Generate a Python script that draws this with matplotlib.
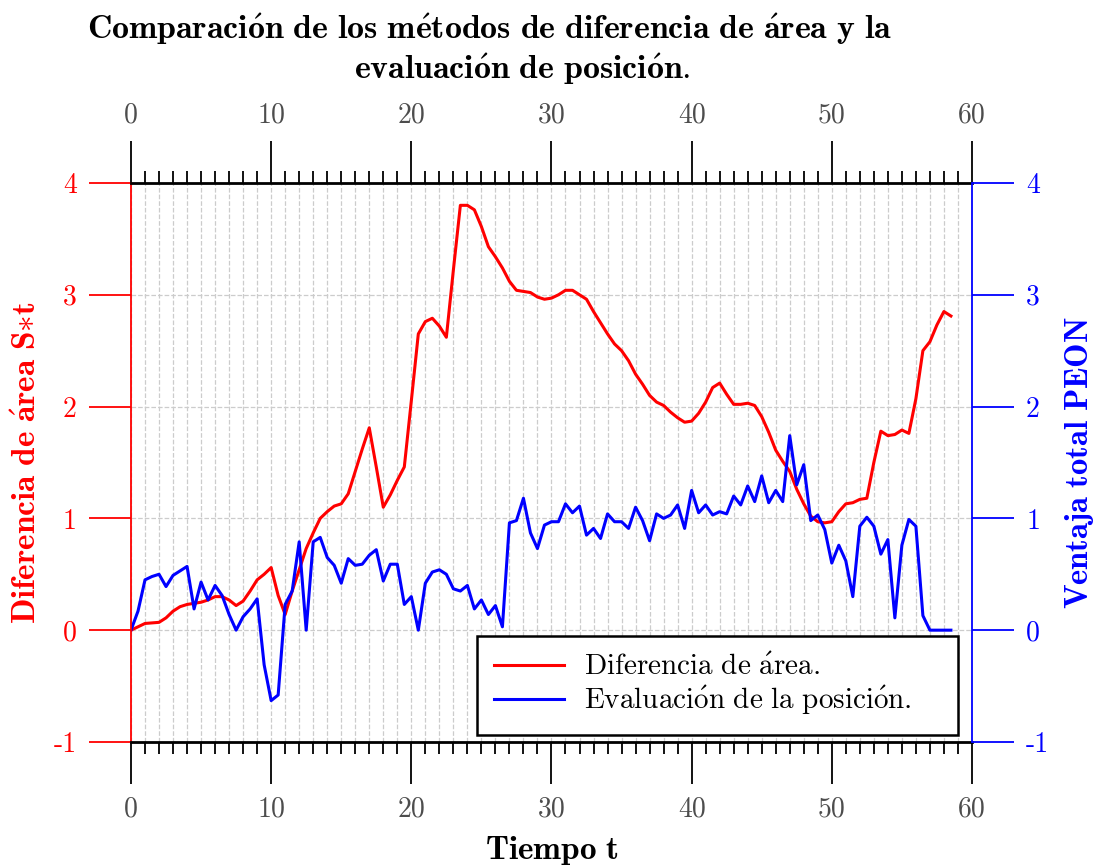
import numpy as np
import matplotlib
matplotlib.use("Agg")
import matplotlib.pyplot as plt

plt.rcParams['mathtext.fontset'] = 'cm'
plt.rcParams['font.family'] = 'cmr10'
plt.rcParams['axes.unicode_minus'] = False

# time axis, one sample every half unit
t = np.arange(0, 59, 0.5)

# Diferencia de área (left axis)
area_diff = [
    0.00, 0.03, 0.06, 0.065, 0.07, 0.11, 0.17, 0.21, 0.23, 0.24,
    0.25, 0.27, 0.30, 0.30, 0.27, 0.22, 0.26, 0.35, 0.45, 0.50,
    0.56, 0.31, 0.14, 0.35, 0.54, 0.73, 0.87, 1.00, 1.06, 1.11,
    1.13, 1.22, 1.42, 1.62, 1.81, 1.46, 1.10, 1.21, 1.34, 1.46,
    2.05, 2.65, 2.76, 2.79, 2.72, 2.62, 3.22, 3.80, 3.80, 3.76,
    3.61, 3.43, 3.34, 3.24, 3.12, 3.04, 3.03, 3.02, 2.98, 2.96,
    2.97, 3.00, 3.04, 3.04, 3.00, 2.96, 2.85, 2.75, 2.65, 2.56,
    2.50, 2.41, 2.29, 2.20, 2.10, 2.04, 2.01, 1.95, 1.90, 1.86,
    1.87, 1.94, 2.04, 2.17, 2.21, 2.11, 2.02, 2.02, 2.03, 2.01,
    1.91, 1.77, 1.61, 1.51, 1.42, 1.26, 1.13, 1.02, 0.97, 0.96,
    0.97, 1.06, 1.13, 1.14, 1.17, 1.18, 1.50, 1.78, 1.74, 1.75,
    1.79, 1.76, 2.07, 2.50, 2.58, 2.73, 2.85, 2.81,
]

# Evaluación de la posición (right axis, PEON)
peon_eval = [
    0.00, 0.17, 0.45, 0.48, 0.50, 0.39, 0.49, 0.53, 0.57, 0.19,
    0.43, 0.27, 0.40, 0.31, 0.14, 0.00, 0.12, 0.19, 0.28, -0.31,
    -0.63, -0.58, 0.23, 0.35, 0.79, 0.00, 0.79, 0.83, 0.65, 0.58,
    0.42, 0.64, 0.58, 0.59, 0.67, 0.72, 0.44, 0.59, 0.59, 0.23,
    0.30, 0.00, 0.42, 0.52, 0.54, 0.50, 0.37, 0.35, 0.40, 0.19,
    0.27, 0.14, 0.22, 0.03, 0.96, 0.98, 1.18, 0.87, 0.73, 0.94,
    0.97, 0.97, 1.13, 1.05, 1.11, 0.85, 0.91, 0.82, 1.04, 0.97,
    0.97, 0.91, 1.10, 0.98, 0.80, 1.04, 1.00, 1.03, 1.12, 0.91,
    1.25, 1.05, 1.12, 1.03, 1.06, 1.04, 1.20, 1.12, 1.29, 1.15,
    1.38, 1.14, 1.25, 1.15, 1.74, 1.30, 1.48, 0.98, 1.03, 0.90,
    0.60, 0.76, 0.62, 0.30, 0.93, 1.01, 0.93, 0.68, 0.81, 0.11,
    0.76, 0.99, 0.93, 0.13, 0.00, 0.00, 0.00, 0.00,
]

x_ticks = [0, 10, 20, 30, 40, 50, 60]
y_ticks = [-1, 0, 1, 2, 3, 4]
y_ticklabels = ['-1', '0', '1', '2', '3', '4']


def tex(s, bold=False):
    # write the text as mathtext so the Computer Modern accents work
    for a, b in [('á', r'\acute{a}'), ('é', r'\acute{e}'), ('ó', r'\acute{o}'),
                 ('*', '{*}'), (' ', r'\ ')]:
        s = s.replace(a, b)
    if bold:
        return r'$\mathbf{%s}$' % s
    return r'$\mathrm{%s}$' % s


fig = plt.figure(figsize=(10.98, 8.68), dpi=100)
ax = fig.add_axes([0.1193, 0.1452, 0.7659, 0.644])

ax.plot(t, area_diff, color='red', lw=2.2, label=tex('Diferencia de área.'))
ax.plot(t, peon_eval, color='blue', lw=2.2, label=tex('Evaluación de la posición.'))

ax.set_xlim(0, 60)
ax.set_ylim(-1, 4)
ax.set_xticks(x_ticks)
ax.set_xticks(range(61), minor=True)
ax.set_yticks(y_ticks)
ax.set_yticklabels(y_ticklabels)

ax.grid(which='both', axis='x', ls='--', color='#cccccc', lw=0.9)
ax.grid(which='major', axis='y', ls='--', color='#cccccc', lw=0.9)
ax.set_axisbelow(True)

ax.tick_params(axis='x', which='both', top=True, labeltop=True, direction='out')
ax.tick_params(axis='x', which='major', length=30, width=1.3, color='black',
               labelcolor='#4d4d4d', labelsize=20, pad=9)
ax.tick_params(axis='x', which='minor', length=8.5, width=1.3, color='black')
ax.tick_params(axis='y', length=30, width=1.3, color='red', labelcolor='red',
               labelsize=20, pad=9)

for side in ['top', 'bottom']:
    ax.spines[side].set_linewidth(2)
    ax.spines[side].set_color('black')
ax.spines['left'].set_color('red')
ax.spines['left'].set_linewidth(1.3)
ax.spines['right'].set_visible(False)

ax2 = ax.twinx()
ax2.set_ylim(-1, 4)
ax2.set_yticks(y_ticks)
ax2.set_yticklabels(y_ticklabels)
ax2.tick_params(axis='y', length=30, width=1.3, color='blue', labelcolor='blue',
                labelsize=20, pad=9)
for side in ['top', 'bottom', 'left']:
    ax2.spines[side].set_visible(False)
ax2.spines['right'].set_color('blue')
ax2.spines['right'].set_linewidth(1.3)

ax.set_xlabel(tex('Tiempo t', True), fontsize=24, labelpad=8)
ax.set_ylabel(tex('Diferencia de área S*t', True), fontsize=24, color='red', labelpad=8)
ax2.set_ylabel(tex('Ventaja total PEON', True), fontsize=23.5, color='blue', labelpad=10)

leg = ax.legend(loc='lower left', bbox_to_anchor=(0.411, 0.0125, 0.572, 0.16),
                mode='expand', fontsize=21, fancybox=False, edgecolor='black',
                framealpha=1, borderaxespad=0, handlelength=2.4, handletextpad=0.69,
                borderpad=0.6, labelspacing=0.12)
leg.get_frame().set_linewidth(1.8)

fig.text(489 / 1098, 1 - 29 / 868, tex('Comparación de los métodos de diferencia de área y la', True),
         ha='center', va='center', fontsize=24.4)
fig.text(522 / 1098, 1 - 69 / 868, tex('evaluación de posición.', True),
         ha='center', va='center', fontsize=24.4)

fig.savefig('out.png', dpi=100)
